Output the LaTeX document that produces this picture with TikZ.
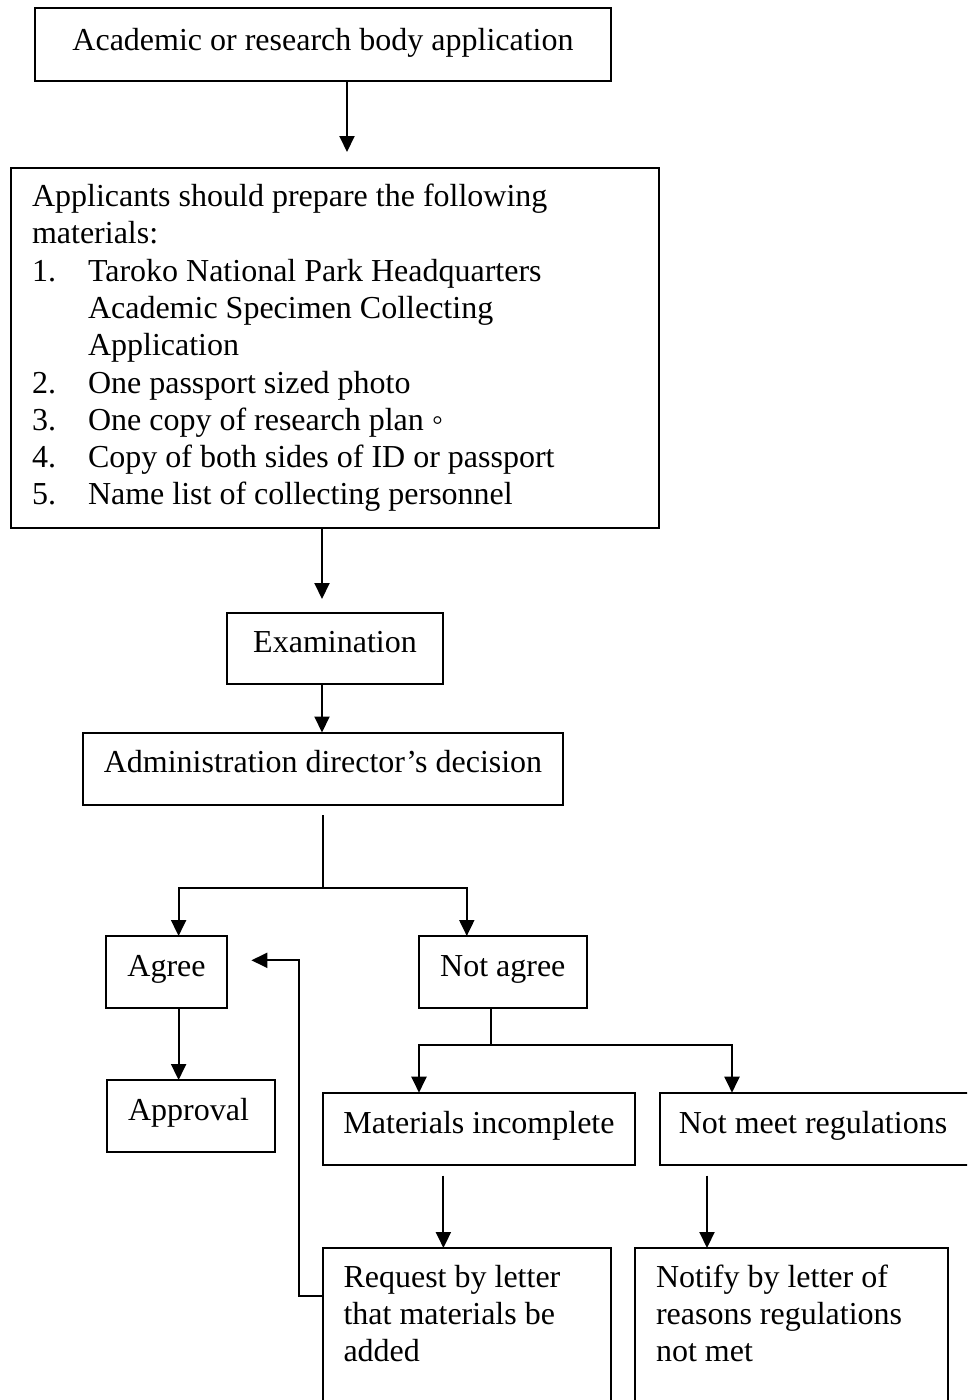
\documentclass[tikz,border=0pt]{standalone}
\usepackage{fontspec}
\setmainfont{Liberation Serif}
\usetikzlibrary{arrows.meta}
\begin{document}
\begin{tikzpicture}[x=1pt,y=-1pt,
  box/.style={draw, line width=2pt, anchor=north west, inner sep=0pt, outer sep=0pt},
  txt/.style={font=\fontsize{32}{37}\selectfont, inner sep=0pt, outer sep=0pt},
  conn/.style={line width=2pt, line join=miter},
  arr/.style={conn, -{Triangle[length=16pt,width=15pt]}}]
\useasboundingbox (0,0) rectangle (967,1400);
\clip (0,0) rectangle (967,1400);

% boxes
\node[box, minimum width=576.5pt, minimum height=72.4pt] (b1) at (34.5,8.3) {};
\node[box, minimum width=648.4pt, minimum height=360pt] (b2) at (10.6,167.5) {};
\node[box, minimum width=216pt, minimum height=71.5pt] (exam) at (227,612.7) {};
\node[box, minimum width=480.6pt, minimum height=72.3pt] (admin) at (82.6,732.5) {};
\node[box, minimum width=120.8pt, minimum height=72pt] (agree) at (106,936) {};
\node[box, minimum width=168.4pt, minimum height=72pt] (nagree) at (418.6,936) {};
\node[box, minimum width=168.6pt, minimum height=72pt] (approval) at (106.7,1080) {};
\node[box, minimum width=312.3pt, minimum height=72.3pt] (mat) at (323,1092.7) {};
\node[box, minimum width=330pt, minimum height=72.3pt] (nmeet) at (659.6,1092.7) {};
\node[box, minimum width=288pt, minimum height=200pt] (req) at (323,1248) {};
\node[box, minimum width=312.7pt, minimum height=200pt] (notify) at (635,1248) {};

% texts
\node[txt, anchor=base] (t1) at (323,50) {Academic or research body application};
\node[txt, anchor=base west] (l0) at (32,206.5) {Applicants should prepare the following};
\node[txt, anchor=base west] (l1) at (32,243.8) {materials:};
\node[txt, anchor=base west] (n1) at (32,281.1) {1.};
\node[txt, anchor=base west] (l2) at (88,281.1) {Taroko National Park Headquarters};
\node[txt, anchor=base west] (l3) at (88,318.4) {Academic Specimen Collecting};
\node[txt, anchor=base west] (l4) at (88,355.7) {Application};
\node[txt, anchor=base west] (n2) at (32,393) {2.};
\node[txt, anchor=base west] (l5) at (88,393) {One passport sized photo};
\node[txt, anchor=base west] (n3) at (32,430.3) {3.};
\node[txt, anchor=base west] (l6) at (88,430.3) {One copy of research plan ◦};
\node[txt, anchor=base west] (n4) at (32,467.6) {4.};
\node[txt, anchor=base west] (l7) at (88,467.6) {Copy of both sides of ID or passport};
\node[txt, anchor=base west] (n5) at (32,504.9) {5.};
\node[txt, anchor=base west] (l8) at (88,504.9) {Name list of collecting personnel};
\node[txt, anchor=base] (texam) at (335,652.7) {Examination};
\node[txt, anchor=base] (tadmin) at (323,772.5) {Administration director’s decision};
\node[txt, anchor=base] (tagree) at (166.5,976.7) {Agree};
\node[txt, anchor=base] (tnagree) at (502.8,976.7) {Not agree};
\node[txt, anchor=base] (tapproval) at (188.5,1120) {Approval};
\node[txt, anchor=base] (tmat) at (479,1133) {Materials incomplete};
\node[txt, anchor=base] (tnmeet) at (813,1133) {Not meet regulations};
\node[txt, anchor=base west] (r1) at (343.5,1287) {Request by letter};
\node[txt, anchor=base west] (r2) at (343.5,1324) {that materials be};
\node[txt, anchor=base west] (r3) at (343.5,1361) {added};
\node[txt, anchor=base west] (o1) at (656,1287) {Notify by letter of};
\node[txt, anchor=base west] (o2) at (656,1324) {reasons regulations};
\node[txt, anchor=base west] (o3) at (656,1361) {not met};

% coordinates
\coordinate (a1) at (347,152);
\coordinate (a2) at (322,599);
\coordinate (a3) at (322,700);
\coordinate (s1) at (322.8,815);
\coordinate (s1h) at (322.8,888);
\coordinate (ag) at (178.6,900);
\coordinate (na) at (466.8,900);
\coordinate (s2) at (491.2,1044.5);
\coordinate (m1) at (419,1044.5);
\coordinate (m2) at (732,1044.5);
\coordinate (d1) at (443.4,1175.7);
\coordinate (d2) at (707,1175.7);
\coordinate (fbs) at (0,1296);
\coordinate (fbv) at (298.6,960.3);
\coordinate (fbt) at (251.4,960.3);

% connectors
\draw[arr] (b1.south -| a1) -- (a1);
\draw[arr] (b2.south -| a2) -- (a2);
\draw[arr] (exam.south -| a3) -- (admin.north -| a3);
\draw[conn] (s1) -- (s1h);
\draw[arr] (s1h) -| (agree.north -| ag);
\draw[arr] (s1h) -| (nagree.north -| na);
\draw[arr] (agree.south -| ag) -- (approval.north -| ag);
\draw[conn] (nagree.south -| s2) -- (s2);
\draw[arr] (s2) -| (mat.north -| m1);
\draw[arr] (s2) -| (nmeet.north -| m2);
\draw[arr] (d1) -- (req.north -| d1);
\draw[arr] (d2) -- (notify.north -| d2);
\draw[arr] (req.west |- fbs) -| (fbv) -- (fbt);
\end{tikzpicture}
\end{document}
